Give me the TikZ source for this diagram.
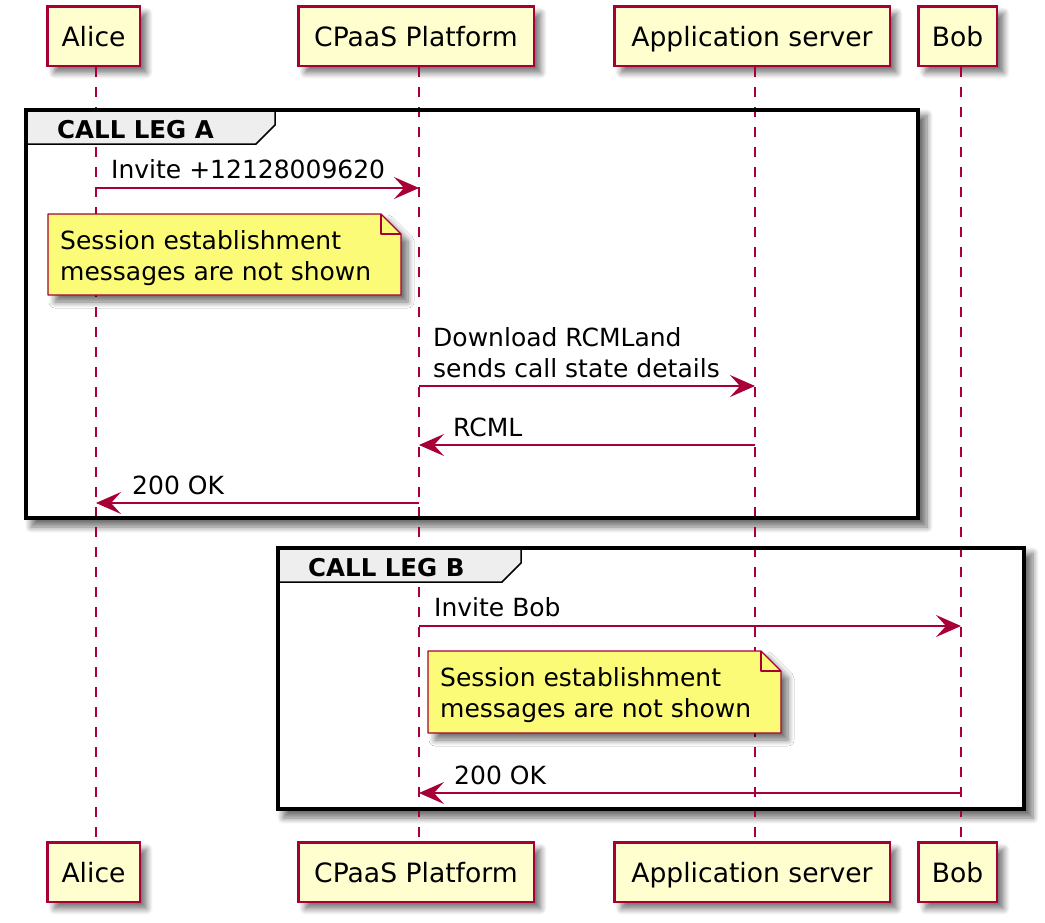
\documentclass[tikz,border=0pt]{standalone}
\usepackage{fontspec}
\setmainfont{DejaVu Sans}
\usepackage{tikz}
\usepackage{xcolor}
\usetikzlibrary{calc}
\usetikzlibrary{positioning}
\usetikzlibrary{arrows.meta}
\usetikzlibrary{shadows.blur}

\definecolor{umlred}{HTML}{A80036}
\definecolor{umlbox}{HTML}{FEFECE}
\definecolor{umlnote}{HTML}{FBFB77}
\definecolor{umltab}{HTML}{EEEEEE}

\begin{document}
\begin{tikzpicture}[x=1pt,y=-1pt,
  shade/.style={blur shadow={shadow xshift=7pt,shadow yshift=-7pt,shadow blur radius=6pt,shadow blur steps=8,shadow opacity=55}},
  actor/.style={draw=umlred,fill=umlbox,line width=2.5pt,minimum height=59.5pt,inner sep=0pt,
    text height=20pt,text depth=0pt,font=\fontsize{26.6}{32}\selectfont,shade},
  lifeline/.style={draw=umlred,line width=1.8pt,dash pattern=on 10pt off 10pt},
  msg/.style={draw=umlred,line width=1.6pt,-{Stealth[length=25pt,width=22pt,inset=10pt]}},
  msgtext/.style={anchor=base west,inner sep=0pt,align=left,font=\fontsize{25}{31}\selectfont},
  notebox/.style={draw=umlred,fill=umlnote,line width=1.4pt,line join=round},
  frame/.style={draw=black,line width=4pt},
  tabbox/.style={draw=black,fill=umltab,line width=1.5pt},
  tabtext/.style={anchor=base west,inner sep=0pt,font=\fontsize{24.5}{30}\selectfont\bfseries}]
\useasboundingbox (0,0) rectangle (1045,922);

% groups, background and shadow
\fill[white,shade] (24,108) rectangle (920,520);
\fill[white,shade] (276,546) rectangle (1026,811);

% participants
\node[actor,minimum width=92.5pt] (aliceTop) at (93.5,36) {Alice};
\node[actor,minimum width=235.5pt] (cpaasTop) at (416,36) {CPaaS Platform};
\node[actor,minimum width=275.5pt] (appTop) at (752,36) {Application server};
\node[actor,minimum width=78.5pt] (bobTop) at (957.5,36) {Bob};

\node[actor,minimum width=92.5pt] (aliceBot) at (93.5,872) {Alice};
\node[actor,minimum width=235.5pt] (cpaasBot) at (416,872) {CPaaS Platform};
\node[actor,minimum width=275.5pt] (appBot) at (752,872) {Application server};
\node[actor,minimum width=78.5pt] (bobBot) at (957.5,872) {Bob};

\coordinate (aliceL) at (96,67);
\coordinate (cpaasL) at (419,67);
\coordinate (appL) at (755,67);
\coordinate (bobL) at (961,67);

\draw[lifeline] (aliceTop.south -| aliceL) -- (aliceBot.north -| aliceL);
\draw[lifeline] (cpaasTop.south -| cpaasL) -- (cpaasBot.north -| cpaasL);
\draw[lifeline] (appTop.south -| appL) -- (appBot.north -| appL);
\draw[lifeline] (bobTop.south -| bobL) -- (bobBot.north -| bobL);

% CALL LEG A
\draw[tabbox] (26,110) -- (275,110) -- (275,125) -- (256,144) -- (26,144) -- cycle;
\node[tabtext] (legA) at (57,138) {CALL LEG A};
\draw[frame] (26,110) rectangle (918,518);

\draw[msg] (aliceL |- 0,188) -- (cpaasL |- 0,188);
\node[msgtext] (inviteA) at (111,178) {Invite +12128009620};

\draw[notebox,shade] (48,214) -- (381,214) -- (401,234) -- (401,295) -- (48,295) -- cycle;
\draw[notebox,fill=none] (381,214) -- (381,234) -- (401,234);
\node[msgtext] (noteA) at (60,280) {Session establishment\\messages are not shown};

\draw[msg] (cpaasL |- 0,386) -- (appL |- 0,386);
\node[msgtext] (download) at (433,377) {Download RCMLand\\sends call state details};

\draw[msg] (appL |- 0,445) -- (cpaasL |- 0,445);
\node[msgtext] (rcml) at (453,436) {RCML};

\draw[msg] (cpaasL |- 0,503) -- (aliceL |- 0,503);
\node[msgtext] (okA) at (132,494) {200 OK};

% CALL LEG B
\draw[tabbox] (278,548) -- (521,548) -- (521,563) -- (502,582) -- (278,582) -- cycle;
\node[tabtext] (legB) at (308,576) {CALL LEG B};
\draw[frame] (278,548) rectangle (1024,809);

\draw[msg] (cpaasL |- 0,626) -- (bobL |- 0,626);
\node[msgtext] (inviteB) at (434,616) {Invite Bob};

\draw[notebox,shade] (428,651) -- (761,651) -- (781,671) -- (781,733) -- (428,733) -- cycle;
\draw[notebox,fill=none] (761,651) -- (761,671) -- (781,671);
\node[msgtext] (noteB) at (440,717) {Session establishment\\messages are not shown};

\draw[msg] (bobL |- 0,793) -- (cpaasL |- 0,793);
\node[msgtext] (okB) at (454,784) {200 OK};
\end{tikzpicture}
\end{document}
